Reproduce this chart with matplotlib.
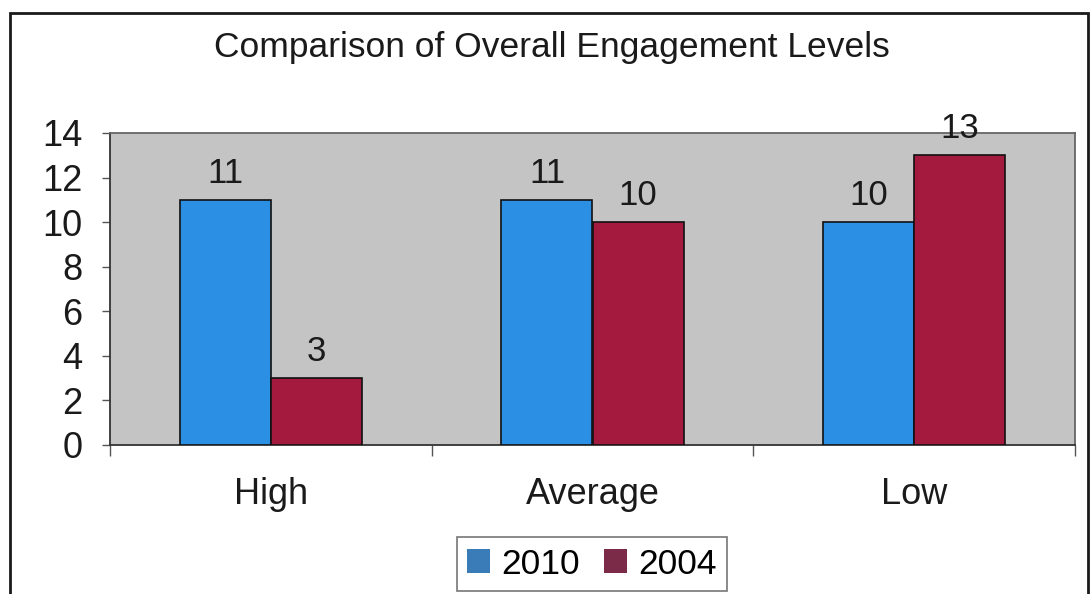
import matplotlib
matplotlib.use("Agg")
import matplotlib.pyplot as plt
from matplotlib.patches import Rectangle, Patch
import numpy as np

categories = ["High", "Average", "Low"]
series_names = ["2010", "2004"]
values_2010 = [11, 11, 10]
values_2004 = [3, 10, 13]
y_ticks = [0, 2, 4, 6, 8, 10, 12, 14]

plt.rcParams["font.family"] = ["Liberation Sans", "DejaVu Sans"]

W, H = 1092, 594
fig = plt.figure(figsize=(W / 100, H / 100), dpi=100)
fig.patch.set_facecolor("white")

# outer chart border
fig.patches.append(Rectangle((10 / W, -0.05), 1078 / W, 1.05 - 13 / H,
                             transform=fig.transFigure, fill=False,
                             edgecolor="#1a1a1a", linewidth=2.0))

ax = fig.add_axes([110 / W, 1 - 445 / H, 965 / W, 312 / H])
ax.set_facecolor("#c4c4c4")

x = np.arange(len(categories))
bw = 0.283
blue = "#2b8fe3"
red = "#a41a3e"
b1 = ax.bar(x - bw / 2, values_2010, bw, color=blue, edgecolor="#111111", linewidth=1.2, zorder=3)
b2 = ax.bar(x + bw / 2, values_2004, bw, color=red, edgecolor="#111111", linewidth=1.2, zorder=3)

for bars, vals in ((b1, values_2010), (b2, values_2004)):
    for r, v in zip(bars, vals):
        ax.text(r.get_x() + r.get_width() / 2, v + 1.2, f"{v}", ha="center", va="center",
                fontsize=25, color="#1a1a1a", clip_on=False)

ax.set_xlim(-0.5, 2.5)
ax.set_ylim(0, 14)
ax.set_yticks(y_ticks)
ax.set_yticklabels([str(t) for t in y_ticks], fontsize=26, color="#1a1a1a")
ax.tick_params(axis="y", direction="out", length=6, width=1, color="#555555", pad=14)

ax.set_xticks([-0.5, 0.5, 1.5, 2.5])
ax.set_xticklabels([])
ax.set_xticks(x, minor=True)
ax.set_xticklabels(categories, minor=True, fontsize=26, color="#1a1a1a")
ax.tick_params(axis="x", which="major", direction="out", length=8, width=1, color="#555555")
ax.tick_params(axis="x", which="minor", length=0, pad=23)

for s in ("top", "right"):
    ax.spines[s].set_color("#666666")
    ax.spines[s].set_linewidth(1.3)
for s in ("left", "bottom"):
    ax.spines[s].set_color("#333333")
    ax.spines[s].set_linewidth(1.3)

fig.text(552 / W, 1 - 48 / H, "Comparison of Overall Engagement Levels",
         ha="center", va="center", fontsize=25.5, color="#1a1a1a")

handles = [Patch(facecolor="#3a7cb8", edgecolor="none"),
           Patch(facecolor="#7b2a48", edgecolor="none")]
leg = fig.legend(handles, series_names, loc="center", bbox_to_anchor=(592 / W, 1 - 564 / H),
                 ncol=2, fontsize=25.5, frameon=True, fancybox=False, handlelength=0.65,
                 handleheight=0.65, handletextpad=0.3, columnspacing=0.7, borderpad=0.3)
leg.get_frame().set_edgecolor("#555555")
leg.get_frame().set_linewidth(1.2)

fig.savefig("out.png", dpi=100)
